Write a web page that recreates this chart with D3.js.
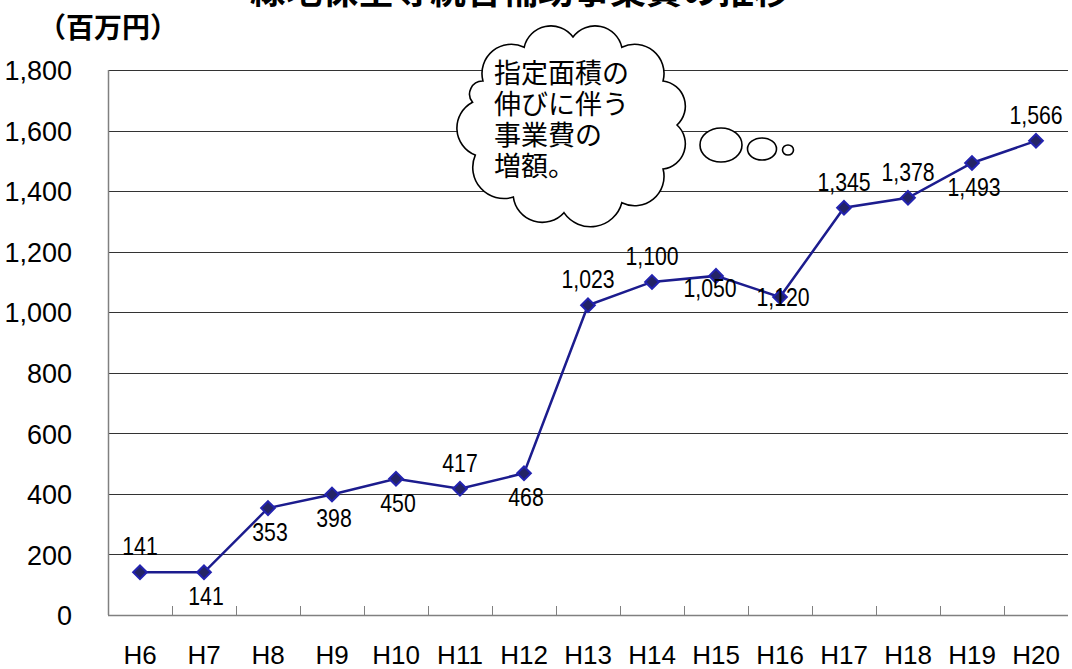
<!DOCTYPE html>
<html><head><meta charset="utf-8">
<script src="https://cdn.jsdelivr.net/npm/d3@7"></script>
<style>
html,body{margin:0;padding:0;background:#fff;}
svg{display:block;}
</style>
</head><body>
<svg id="chart" width="1072" height="669"></svg>
<script>
const titleText = "緑地保全等統合補助事業費の推移";
const unitText = "（百万円）";
const categories = ["H6","H7","H8","H9","H10","H11","H12","H13","H14","H15","H16","H17","H18","H19","H20"];
const values = [141,141,353,398,450,417,468,1023,1100,1120,1050,1345,1378,1493,1566];
const valueLabels = ["141","141","353","398","450","417","468","1,023","1,100","1,050","1,120","1,345","1,378","1,493","1,566"];
const labelSide = ["above","below","below","below","below","above","below","above","above","over","center","above","above","below","above"];
const yTicks = [0,200,400,600,800,1000,1200,1400,1600,1800];
const calloutLines = ["指定面積の","伸びに伴う","事業費の","増額。"];

const svg = d3.select("#chart");
const M = {left:108, right:1068, top:70, bottom:615};
const x = d3.scaleBand().domain(categories).range([M.left, M.right]).padding(0);
const y = d3.scaleLinear().domain([0,1800]).range([M.bottom, M.top]);
const cx = d => x(d) + x.bandwidth()/2;

// title (cut at top)
svg.append("text").attr("x",520).attr("y",4).attr("text-anchor","middle")
  .attr("font-family","'Noto Sans CJK JP'").attr("font-weight",700).attr("font-size",36)
  .attr("fill","#000").text(titleText);

// unit label
svg.append("text").attr("x",38).attr("y",38)
  .attr("font-family","'Noto Sans CJK JP'").attr("font-weight",700).attr("font-size",28)
  .attr("fill","#000").text(unitText);

// gridlines
svg.append("g").selectAll("line").data(yTicks.filter(v=>v>0)).join("line")
  .attr("x1",M.left).attr("x2",M.right)
  .attr("y1",d=>Math.round(y(d))+0.5).attr("y2",d=>Math.round(y(d))+0.5)
  .attr("stroke","#333").attr("stroke-width",1);

// y axis
const yAxis = d3.axisLeft(y).tickValues(yTicks).tickSize(0).tickPadding(36).tickFormat(d3.format(","));
const gy = svg.append("g").attr("transform",`translate(${M.left},0)`).call(yAxis);
gy.select(".domain").remove();
gy.selectAll("text").attr("font-family","'Liberation Sans', Arial, sans-serif").attr("font-size",27).attr("fill","#000").attr("dy","0.36em");
svg.append("line").attr("x1",M.left+0.5).attr("x2",M.left+0.5).attr("y1",M.top).attr("y2",M.bottom)
  .attr("stroke","#808080").attr("stroke-width",1.5);

// x axis
const xAxis = d3.axisBottom(x).tickSize(0).tickPadding(0);
const gx = svg.append("g").attr("transform",`translate(0,${M.bottom})`).call(xAxis);
gx.select(".domain").remove();
gx.selectAll("text").attr("font-family","'Liberation Sans', Arial, sans-serif").attr("font-size",26)
  .attr("fill","#000").attr("y",49).attr("dy",0);
svg.append("line").attr("x1",M.left).attr("x2",M.right).attr("y1",M.bottom+0.5).attr("y2",M.bottom+0.5)
  .attr("stroke","#808080").attr("stroke-width",1.5);
svg.append("g").selectAll("line").data(categories.slice(1)).join("line")
  .attr("x1",d=>Math.round(x(d))+0.5).attr("x2",d=>Math.round(x(d))+0.5)
  .attr("y1",M.bottom-9).attr("y2",M.bottom).attr("stroke","#808080").attr("stroke-width",1);

// cloud callout
(function(){
  const ccx=573, ccy=125, rx=104, ry=88;
  const angles=[-150,-118,-90,-62,-30,0,30,62,95,125,160,195];
  const pts=angles.map(a=>{const r=a*Math.PI/180;return [ccx+rx*Math.cos(r), ccy+ry*Math.sin(r)];});
  let p=`M${pts[0][0]},${pts[0][1]}`;
  for(let i=0;i<pts.length;i++){
    const a=pts[i], b=pts[(i+1)%pts.length];
    const c=Math.hypot(b[0]-a[0],b[1]-a[1]);
    const r=c*0.55;
    p+=` A${r},${r} 0 0 1 ${b[0]},${b[1]}`;
  }
  p+="Z";
  svg.append("path").attr("d",p).attr("fill","#fff").attr("stroke","#000").attr("stroke-width",1.6);
  const bubbles=[[721,145,21,17],[762,149,14.5,11],[788,150,5.5,5]];
  svg.append("g").selectAll("ellipse").data(bubbles).join("ellipse")
    .attr("cx",d=>d[0]).attr("cy",d=>d[1]).attr("rx",d=>d[2]).attr("ry",d=>d[3])
    .attr("fill","#fff").attr("stroke","#000").attr("stroke-width",1.6);
  svg.append("g").selectAll("text").data(calloutLines).join("text")
    .attr("x",494).attr("y",(d,i)=>83+i*31)
    .attr("font-family","'Noto Sans CJK JP'").attr("font-size",27).attr("fill","#000").text(d=>d);
})();

// line
const line = d3.line().x((d,i)=>cx(categories[i])).y(d=>y(d));
svg.append("path").datum(values).attr("d",line).attr("fill","none")
  .attr("stroke","#1c1c8e").attr("stroke-width",2.5);

// markers
const sym = d3.symbol().type(d3.symbolDiamond2).size(120);
svg.append("g").selectAll("path").data(values).join("path")
  .attr("transform",(d,i)=>`translate(${cx(categories[i])},${y(d)})`)
  .attr("d",sym).attr("fill","#242466").attr("stroke","#2323b0").attr("stroke-width",2);

// value labels
const sideDy = {above:-17, below:33, over:21, center:9};
const sideDx = {above:0, below:2, over:-6, center:3};
svg.append("g").selectAll("text").data(values).join("text")
  .attr("transform",(d,i)=>`translate(${cx(categories[i])+sideDx[labelSide[i]]},${y(d)+sideDy[labelSide[i]]}) scale(0.85,1)`)
  .attr("text-anchor","middle")
  .attr("font-family","'Liberation Sans',Arial,sans-serif")
  .attr("font-size",25).attr("fill","#000")
  .text((d,i)=>valueLabels[i]);
</script>
</body></html>
